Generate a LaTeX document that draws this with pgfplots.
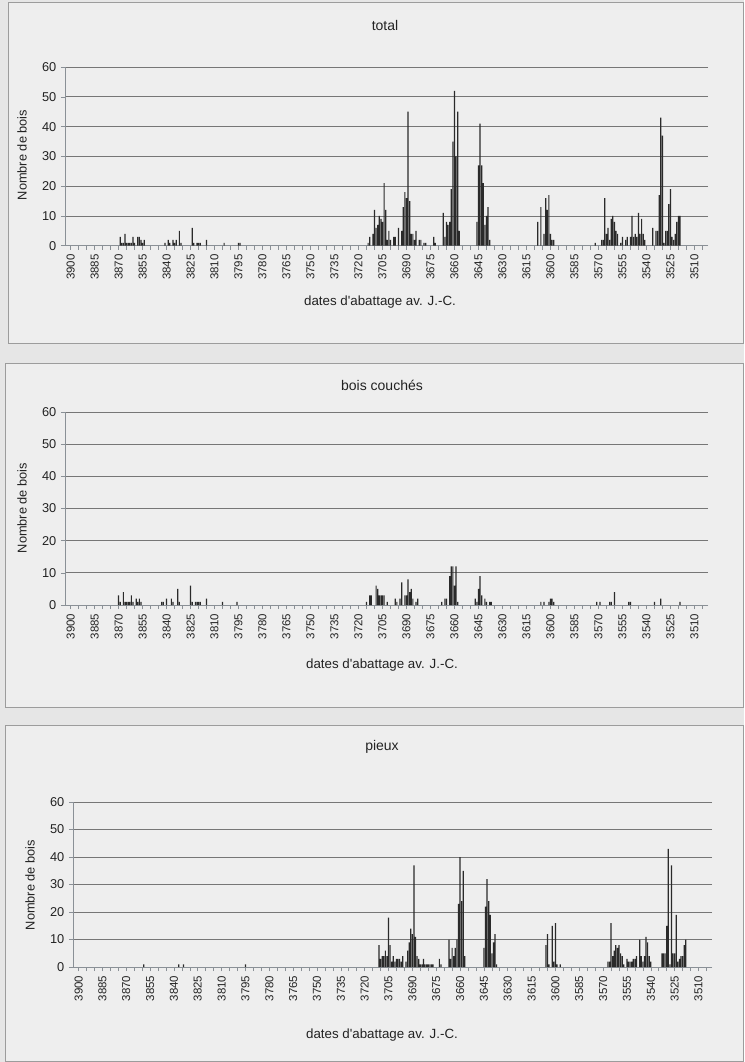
\documentclass[border=0pt]{standalone}
\usepackage{fontspec}
\setmainfont{Liberation Sans}
\usepackage{pgfplots}
\usepackage{pgfplotstable}
\pgfplotsset{compat=1.18}

\definecolor{pagebg}{HTML}{E6E6E6}
\definecolor{panelbg}{HTML}{EEEEEE}
\definecolor{framec}{HTML}{9C9C9C}
\definecolor{gridc}{HTML}{767676}
\definecolor{axisc}{HTML}{8A9096}
\definecolor{barc}{HTML}{2A2A2A}
\definecolor{txt}{HTML}{222222}

% year  count
\pgfplotstableread{
year n
3869 3
3868 1
3867 1
3866 4
3865 1
3864 1
3863 1
3862 1
3861 3
3860 1
3858 3
3857 3
3856 2
3855 1
3854 2
3841 1
3839 2
3838 1
3836 2
3835 1
3834 2
3832 5
3831 1
3824 6
3823 1
3821 1
3820 1
3819 1
3815 2
3804 1
3795 1
3794 1
3714 1
3713 3
3711 4
3710 12
3709 6
3708 7
3707 10
3706 9
3705 8
3704 21
3703 12
3702 2
3701 5
3700 2
3698 3
3697 3
3695 6
3693 5
3692 13
3691 18
3690 16
3689 45
3688 15
3687 4
3686 4
3685 2
3684 5
3682 2
3681 2
3679 1
3678 1
3673 3
3672 1
3667 11
3666 3
3665 8
3664 7
3663 8
3662 19
3661 35
3660 52
3659 30
3658 45
3657 5
3646 8
3645 27
3644 41
3643 27
3642 21
3641 7
3640 10
3639 13
3638 2
3608 8
3606 13
3604 4
3603 16
3602 12
3601 17
3600 4
3599 2
3598 2
3572 1
3568 2
3567 2
3566 16
3565 4
3564 6
3563 2
3562 9
3561 10
3560 8
3559 5
3558 4
3556 1
3555 3
3553 2
3552 3
3550 3
3549 10
3548 3
3547 4
3546 3
3545 11
3544 4
3543 9
3542 4
3541 2
3536 6
3534 5
3533 5
3532 17
3531 43
3530 37
3529 1
3528 5
3527 5
3526 14
3525 19
3524 3
3523 2
3522 4
3521 8
3520 10
3519 10
}\total

\pgfplotstableread{
year n
3870 3
3869 1
3867 4
3866 1
3865 1
3864 1
3863 1
3862 3
3861 1
3859 2
3858 1
3857 2
3856 1
3843 1
3842 1
3840 2
3837 2
3836 1
3833 5
3832 1
3825 6
3824 1
3822 1
3821 1
3820 1
3819 1
3815 2
3805 1
3796 1
3715 1
3713 3
3712 3
3709 6
3708 5
3707 3
3706 3
3705 3
3704 3
3702 1
3697 2
3696 1
3694 2
3693 7
3691 3
3690 3
3689 8
3688 4
3687 5
3686 2
3684 1
3683 2
3668 1
3666 2
3665 2
3663 9
3662 12
3661 12
3660 6
3659 12
3658 1
3647 2
3646 1
3645 5
3644 9
3643 3
3641 2
3640 1
3638 1
3637 1
3606 1
3604 1
3601 1
3600 2
3599 2
3598 1
3571 1
3569 1
3563 1
3562 1
3560 4
3551 1
3550 1
3535 1
3531 2
3519 1
}\couches

\pgfplotstableread{
year n
3859 1
3837 1
3834 1
3795 1
3711 8
3710 3
3709 4
3708 4
3707 6
3706 4
3705 18
3704 8
3703 2
3702 4
3701 2
3700 3
3699 3
3698 3
3697 2
3696 4
3694 2
3693 6
3692 9
3691 14
3690 12
3689 37
3688 11
3687 4
3686 3
3685 1
3684 1
3683 3
3682 1
3681 1
3680 1
3679 1
3678 1
3677 1
3673 3
3672 1
3667 10
3666 3
3665 7
3664 4
3663 7
3662 10
3661 23
3660 40
3659 24
3658 35
3657 4
3645 7
3644 22
3643 32
3642 24
3641 19
3640 5
3639 9
3638 12
3637 1
3606 8
3605 12
3604 1
3602 15
3601 2
3600 16
3599 1
3597 1
3567 2
3566 2
3565 16
3564 4
3563 6
3562 8
3561 7
3560 8
3559 5
3558 4
3557 1
3555 3
3554 2
3553 2
3552 2
3551 3
3550 3
3549 4
3547 10
3546 4
3545 2
3544 4
3543 11
3542 9
3541 4
3540 2
3533 5
3532 5
3531 5
3530 15
3529 43
3528 1
3527 37
3526 5
3525 5
3524 19
3523 2
3522 3
3521 4
3520 4
3519 8
3518 10
}\pieux

\pgfplotsset{
  bois/.style={
    scale only axis,
    anchor=south west,
    x dir=reverse,
    xmin=3501.5, xmax=3903.5,
    ymin=0, ymax=60,
    xtick={3510,3525,...,3900},
    minor xtick={3505,3510,...,3900},
    ytick={0,10,...,60},
    axis x line*=bottom,
    axis y line*=left,
    axis line style={draw=axisc, line width=0.5pt},
    ymajorgrids,
    grid style={draw=gridc, line width=0.55pt},
    tick align=outside,
    major tick length=3pt,
    minor tick length=3pt,
    tick style={draw=axisc, line width=0.45pt},
    xticklabel style={rotate=90, anchor=east, font=\fontsize{8.6}{9}\selectfont, text=txt},
    yticklabel style={font=\fontsize{9.6}{10}\selectfont, text=txt},
    /pgf/number format/1000 sep={},
    /pgf/number format/assume math mode=true,
    ybar,
    bar width=0.75,
  },
  bars/.style={fill=barc, draw=none},
}

\begin{document}
\begin{tikzpicture}
\fill[pagebg] (0pt,0pt) rectangle (558pt,-796.5pt);

% frames
\filldraw[fill=panelbg, draw=framec, line width=0.6pt] (6pt,-1.5pt) rectangle (557.25pt,-257.25pt);
\filldraw[fill=panelbg, draw=framec, line width=0.6pt] (3.75pt,-272.25pt) rectangle (557.6pt,-530.25pt);
\filldraw[fill=panelbg, draw=framec, line width=0.6pt] (3.75pt,-543.75pt) rectangle (557.6pt,-796pt);

% total
\begin{axis}[bois, at={(48.75pt,-184.3pt)}, width=482.25pt, height=134pt]
\addplot[bars] table[x=year, y=n] {\total};
\end{axis}
\node[text=txt, font=\fontsize{10.5}{12}\selectfont] at (288.75pt,-19.5pt) {total};
\node[text=txt, rotate=90, font=\fontsize{9.6}{11}\selectfont] at (16.5pt,-116.25pt) {Nombre de bois};
\node[text=txt, font=\fontsize{10}{12}\selectfont] at (285pt,-226.5pt) {dates d\textquotesingle abattage av. J.-C.};

% bois couches
\begin{axis}[bois, at={(48.75pt,-453.75pt)}, width=482.25pt, height=144.75pt]
\addplot[bars] table[x=year, y=n] {\couches};
\end{axis}
\node[text=txt, font=\fontsize{10.5}{12}\selectfont] at (286.5pt,-288.75pt) {bois couchés};
\node[text=txt, rotate=90, font=\fontsize{9.6}{11}\selectfont] at (16.5pt,-381pt) {Nombre de bois};
\node[text=txt, font=\fontsize{10}{12}\selectfont] at (286.5pt,-498.75pt) {dates d\textquotesingle abattage av. J.-C.};

% pieux
\begin{axis}[bois, at={(54.75pt,-725.25pt)}, width=479.25pt, height=123.75pt]
\addplot[bars] table[x=year, y=n] {\pieux};
\end{axis}
\node[text=txt, font=\fontsize{10.5}{12}\selectfont] at (286.5pt,-560.25pt) {pieux};
\node[text=txt, rotate=90, font=\fontsize{9.6}{11}\selectfont] at (22.5pt,-663.75pt) {Nombre de bois};
\node[text=txt, font=\fontsize{10}{12}\selectfont] at (286.5pt,-776.25pt) {dates d\textquotesingle abattage av. J.-C.};
\end{tikzpicture}
\end{document}
